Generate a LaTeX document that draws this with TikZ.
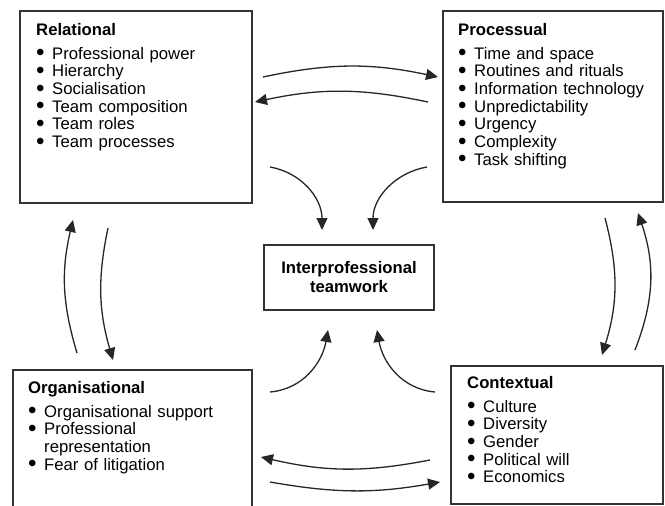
\documentclass[tikz,border=0pt]{standalone}
\usepackage{fontspec}
\setmainfont{Liberation Sans}
\usetikzlibrary{arrows.meta}
\newcommand{\itm}[1]{\makebox[16pt][l]{\raisebox{-1.8pt}{\scalebox{1.45}{\textbullet}}}#1}
\begin{document}
\begin{tikzpicture}[x=1pt,y=-1pt,
  box/.style={draw=black!80, line width=1.5pt, inner sep=0pt, rectangle},
  txt/.style={anchor=base west, inner sep=0pt, align=left, text width=220pt, font=\fontsize{16.7}{17.7}\selectfont},
  arr/.style={draw=black!85, line width=1.3pt, -{Triangle[length=12pt,width=11pt]}}]
\useasboundingbox (0,0) rectangle (665,506);
\clip (0,0) rectangle (665,506);
% boxes
\node[box, minimum width=232pt, minimum height=192pt] (rel) at (136,107) {};
\node[box, minimum width=220pt, minimum height=191pt] (proc) at (553,106.5) {};
\node[box, minimum width=239pt, minimum height=145pt] (org) at (132.5,442.5) {};
\node[box, minimum width=212pt, minimum height=138pt] (ctx) at (557,435) {};
\node[box, minimum width=170pt, minimum height=65pt, align=center,
      font=\fontsize{16.7}{19}\selectfont\bfseries] (ipt) at (349,277.5) {Interprofessional\\teamwork};
% texts
\node[txt] (relt) at (36,35) {\textbf{Relational}\\[6.3pt]
  \itm{Professional power}\\ \itm{Hierarchy}\\ \itm{Socialisation}\\
  \itm{Team composition}\\ \itm{Team roles}\\ \itm{Team processes}};
\node[txt] (proct) at (458,35) {\textbf{Processual}\\[6.3pt]
  \itm{Time and space}\\ \itm{Routines and rituals}\\ \itm{Information technology}\\
  \itm{Unpredictability}\\ \itm{Urgency}\\ \itm{Complexity}\\ \itm{Task shifting}};
\node[txt] (orgt) at (28,393) {\textbf{Organisational}\\[6.3pt]
  \itm{Organisational support}\\ \itm{Professional}\\ \hspace*{16pt}representation\\
  \itm{Fear of litigation}};
\node[txt] (ctxt) at (467,388) {\textbf{Contextual}\\[6.3pt]
  \itm{Culture}\\ \itm{Diversity}\\ \itm{Gender}\\ \itm{Political will}\\ \itm{Economics}};
% arrow end points
\coordinate (a1s) at (263,77);  \coordinate (a1e) at (438,77);
\coordinate (a2s) at (428,102); \coordinate (a2e) at (255,102);
\coordinate (a3s) at (270,167); \coordinate (a3e) at (322,230);
\coordinate (a4s) at (427,167); \coordinate (a4e) at (373,230);
\coordinate (a5s) at (270,392); \coordinate (a5e) at (328,330);
\coordinate (a6s) at (435,392); \coordinate (a6e) at (377,330);
\coordinate (a7s) at (77,353);  \coordinate (a7e) at (73,220);
\coordinate (a8s) at (108,228); \coordinate (a8e) at (113,360);
\coordinate (a9s) at (605,218); \coordinate (a9e) at (602,355);
\coordinate (a10s) at (635,350); \coordinate (a10e) at (638,213);
\coordinate (a11s) at (430,460); \coordinate (a11e) at (261,457);
\coordinate (a12s) at (270,482); \coordinate (a12e) at (440,482);
% arrows
\draw[arr] (a1s) to[bend left=12] (a1e);
\draw[arr] (a2s) to[bend right=12] (a2e);
\draw[arr] (a3s) to[out=-10, in=90] (a3e);
\draw[arr] (a4s) to[out=190, in=90] (a4e);
\draw[arr] (a5s) to[out=5, in=-100] (a5e);
\draw[arr] (a6s) to[out=175, in=-80] (a6e);
\draw[arr] (a7s) to[bend left=15] (a7e);
\draw[arr] (a8s) to[bend right=14] (a8e);
\draw[arr] (a9s) to[bend left=16] (a9e);
\draw[arr] (a10s) to[bend right=20] (a10e);
\draw[arr] (a11s) to[bend left=12] (a11e);
\draw[arr] (a12s) to[bend right=10] (a12e);
\end{tikzpicture}
\end{document}
